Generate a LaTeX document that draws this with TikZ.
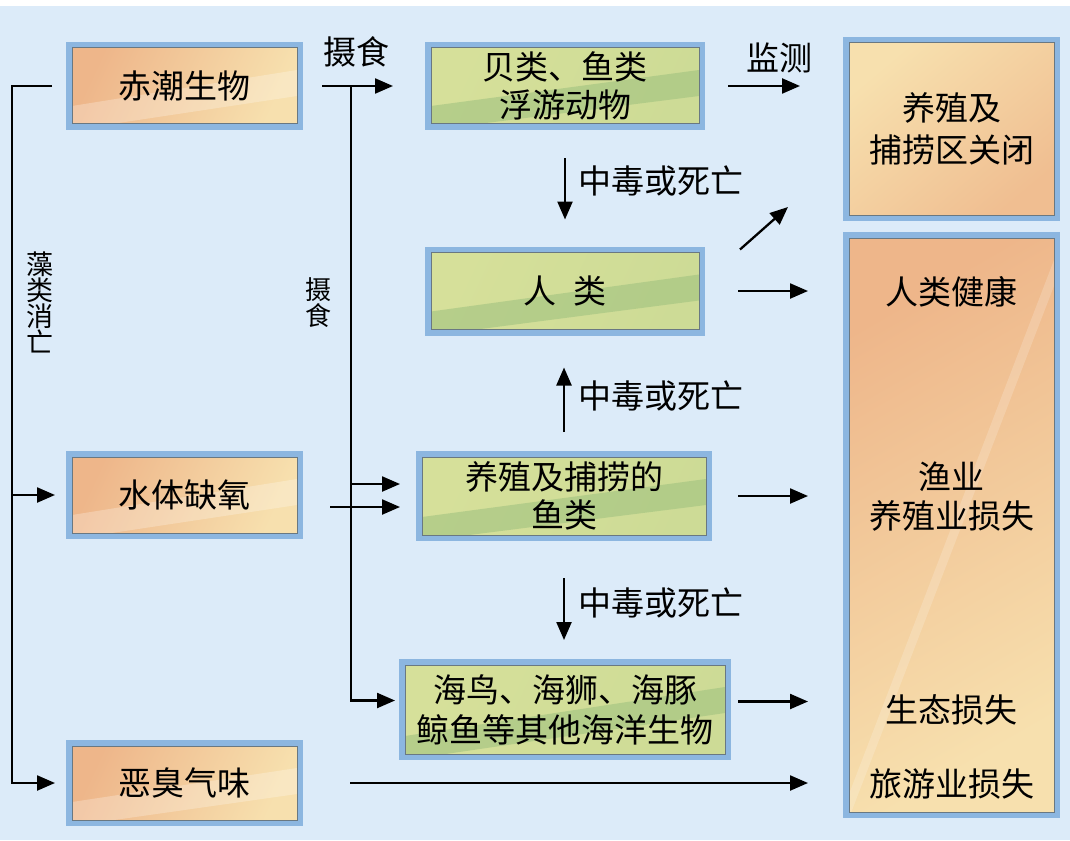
\documentclass[tikz,border=0pt]{standalone}
\usepackage{fontspec}
\setmainfont{Noto Sans CJK SC}
\usetikzlibrary{arrows.meta,calc}

\definecolor{bgblue}{RGB}{220,235,249}
\definecolor{frameblue}{RGB}{140,182,224}
\definecolor{edgegray}{RGB}{105,120,130}
\definecolor{orgdark}{RGB}{238,182,138}
\definecolor{orglight}{RGB}{247,224,174}
\definecolor{grndark}{RGB}{156,192,126}
\definecolor{grnlight}{RGB}{214,224,154}

\tikzset{
  box/.style={draw=edgegray, line width=1pt, inner sep=0pt, outer sep=0pt, align=center,
    font=\fontsize{33}{38}\selectfont, preaction={draw=frameblue, line width=12pt}},
  stripes/.style={path picture={
    \coordinate (sw) at (path picture bounding box.south west);
    \coordinate (ne) at (path picture bounding box.north east);
    \fill[#1] ($(sw)+(0,-18)$) -- ($(ne)+(0,22)$) -- ($(ne)+(0,48)$) -- ($(sw)+(0,6)$) -- cycle;
  }},
  orgbox/.style={box, left color=orgdark, right color=orglight, shading angle=65,
    stripes={white,opacity=.25}},
  grnbox/.style={box, left color=grnlight, right color=grnlight!85!grndark, shading angle=65,
    stripes={grndark,opacity=.55}},
  arr/.style={line width=2.3pt, -{Triangle[length=18pt,width=15pt]}},
  lbl/.style={inner sep=1pt, font=\fontsize{33}{38}\selectfont},
  txt/.style={inner sep=1pt, align=center, font=\fontsize{33}{39}\selectfont},
  vlbl/.style={inner sep=1pt, align=center, font=\fontsize{#1}{26}\selectfont},
}

\begin{document}
\begin{tikzpicture}[x=1pt,y=-1pt]
\useasboundingbox (0,0) rectangle (1070,840);
\fill[bgblue] (0,0) rectangle (1070,840);
\fill[white] (0,0) rectangle (1070,6);

% left column
\node[orgbox, minimum width=225pt, minimum height=76pt] (red) at (184.5,86) {赤潮生物};
\node[orgbox, minimum width=225pt, minimum height=76pt] (anoxia) at (184.5,495) {水体缺氧};
\node[orgbox, minimum width=225pt, minimum height=74pt] (smell) at (184.5,783) {恶臭气味};

% middle column
\node[grnbox, minimum width=268pt, minimum height=76pt] (shell) at (565,86) {贝类、鱼类\\浮游动物};
\node[grnbox, minimum width=268pt, minimum height=77pt] (human) at (565,291) {人\hspace{0.5em}类};
\node[grnbox, minimum width=284pt, minimum height=78pt] (fish) at (564,496) {养殖及捕捞的\\鱼类};
\node[grnbox, minimum width=320pt, minimum height=89pt, font=\fontsize{33}{40}\selectfont] (sea) at (565,709.5) {海鸟、海狮、海豚\\鲸鱼等其他海洋生物};

% right column
\node[box, minimum width=205pt, minimum height=172pt, left color=orglight, right color=orgdark!80!orglight, shading angle=40, font=\fontsize{33}{42}\selectfont] (close) at (951.5,129) {养殖及\\捕捞区关闭};
\node[box, minimum width=205pt, minimum height=574pt, left color=orgdark, right color=orglight, shading angle=30, stripes={white,opacity=.18}] (loss) at (951.5,525) {};
\node[txt] (health) at (951.5,292) {人类健康};
\node[txt] (fishery) at (951.5,497) {渔业\\养殖业损失};
\node[txt] (eco) at (951.5,710) {生态损失};
\node[txt] (tour) at (951.5,784) {旅游业损失};

% labels
\node[lbl] (feedtop) at (356,52) {摄食};
\node[lbl] (monitor) at (779,58) {监测};
\node[lbl, anchor=west] (tox1) at (577,181) {中毒或死亡};
\node[lbl, anchor=west] (tox2) at (577,396) {中毒或死亡};
\node[lbl, anchor=west] (tox3) at (577,603) {中毒或死亡};
\node[vlbl=27] (algae) at (40,302) {藻\\类\\消\\亡};
\node[vlbl=26] (feedside) at (318,303) {摄\\食};

% connectors
\coordinate (lft) at (12,86);
\coordinate (mid) at (351,86);
\draw[arr] ([xshift=-20pt]red.west) -- (lft) |- ([xshift=-17pt]smell.west);
\draw[arr] (lft |- anoxia.west) -- ([xshift=-17pt]anoxia.west);

\draw[arr, shorten <=25pt, shorten >=38pt] (red.east) -- (shell.west);
\draw[arr] (mid) |- ($(sea.west)+(-10,-9)$);
\draw[arr] ($(mid |- fish.west)+(0,-12)$) -- ($(fish.west)+(-22,-12)$);
\draw[arr] ($(anoxia.east)+(33,12)$) -- ($(fish.west)+(-22,11)$);

\draw[arr, shorten <=29pt, shorten >=49pt] (shell.east) -- (shell.east -| close.west);
\draw[arr, shorten <=34pt, shorten >=33pt] (shell.south) -- (human.north);
\draw[arr, shorten <=25pt, shorten >=38pt] (fish.north) -- (fish.north |- human.south);
\draw[arr, shorten <=43pt, shorten >=25pt] (fish.south) -- (fish.south |- sea.north);
\draw[arr] ($(human.north east)+(41,-3)$) -- ($(close.south west)+(-61,-8)$);

\draw[arr, shorten <=39pt, shorten >=41pt] (human.east) -- (human.east -| loss.west);
\draw[arr, shorten <=32pt, shorten >=41pt] (fish.east) -- (fish.east -| loss.west);
\draw[arr, shorten <=13pt, shorten >=41pt] ($(sea.east)+(0,-8)$) -- ($(sea.east -| loss.west)+(0,-8)$);
\draw[arr, shorten <=53pt, shorten >=41pt] (smell.east) -- (smell.east -| loss.west);
\end{tikzpicture}
\end{document}
